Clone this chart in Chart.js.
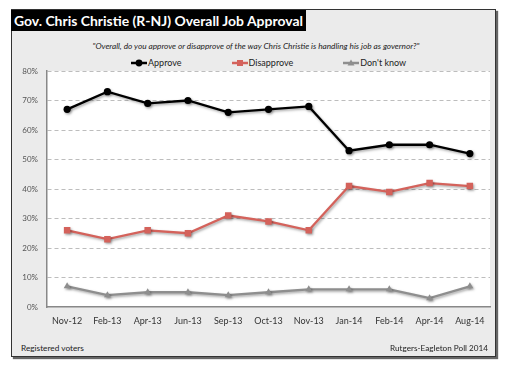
<!DOCTYPE html>
<html><head><meta charset="utf-8">
<script src="https://cdn.jsdelivr.net/npm/chart.js@4"></script>
<style>
html,body{margin:0;padding:0;background:#fff;width:512px;height:368px;overflow:hidden;font-family:Lato,"Open Sans",sans-serif;}
#frame{position:absolute;left:11px;top:9px;width:483px;height:346px;background:#ebebeb;border:1px solid #333;box-shadow:2px 2px 1px #666;}
#title{position:absolute;left:11px;top:10px;height:21px;width:295px;background:#000;}
#titleText{position:absolute;left:14px;top:10px;height:21px;line-height:21px;color:#fff;font-weight:bold;font-size:15px;white-space:nowrap;}
#sub{position:absolute;top:40px;left:256px;transform:translateX(-50%);font-style:italic;font-size:8.5px;color:#222;white-space:nowrap;line-height:12px;}
#legend{position:absolute;top:57px;left:131px;display:flex;gap:50px;font-size:9px;color:#222;line-height:12px;}
#legend .item{display:flex;align-items:center;white-space:nowrap;}
#legend canvas{position:static;margin-right:1px;}
.foot{position:absolute;top:342px;font-size:9px;color:#222;white-space:nowrap;line-height:12px;}
#wrap{position:absolute;left:0;top:0;width:512px;height:368px;}
#wrap canvas{position:absolute;left:0;top:0;}
</style>
</head><body>
<div id="frame"></div>
<div id="title"></div>
<div id="titleText">Gov. Chris Christie (R-NJ) Overall Job Approval</div>
<div id="sub">"Overall, do you approve or disapprove of the way Chris Christie is handling his job as governor?"</div>
<div id="legend"></div>
<div class="foot" id="footL" style="left:21px;">Registered voters</div>
<div class="foot" id="footR" style="right:24px;">Rutgers-Eagleton Poll 2014</div>
<div id="wrap"><canvas id="c" width="512" height="368"></canvas></div>
<script>
const categories = ['Nov-12','Feb-13','Apr-13','Jun-13','Sep-13','Oct-13','Nov-13','Jan-14','Feb-14','Apr-14','Aug-14'];
const approve    = [67, 73, 69, 70, 66, 67, 68, 53, 55, 55, 52];
const disapprove = [26, 23, 26, 25, 31, 29, 26, 41, 39, 42, 41];
const dontKnow   = [7, 4, 5, 5, 4, 5, 6, 6, 6, 3, 7];
const seriesNames = ['Approve', 'Disapprove', "Don't know"];
const yMin = 0, yMax = 80, yStep = 10;

function fitWidth(el, target){
  const w = el.getBoundingClientRect().width;
  const fs = parseFloat(getComputedStyle(el).fontSize);
  el.style.fontSize = (fs * target / w).toFixed(2) + 'px';
}
fitWidth(document.getElementById('titleText'), 289);
fitWidth(document.getElementById('sub'), 327);
fitWidth(document.getElementById('footL'), 63);
fitWidth(document.getElementById('footR'), 98);

const plotBg = {
  id:'plotBg',
  beforeDraw(chart){
    const {ctx, chartArea:a} = chart;
    ctx.save(); ctx.fillStyle = '#fff';
    ctx.fillRect(a.left, a.top, a.right - a.left, a.bottom - a.top);
    ctx.restore();
  }
};
const shadow = {
  id:'shadow',
  beforeDatasetsDraw(chart){
    const ctx = chart.ctx; ctx.save();
    ctx.shadowColor = 'rgba(0,0,0,0.35)'; ctx.shadowBlur = 2.5;
    ctx.shadowOffsetX = 1.2; ctx.shadowOffsetY = 1.5;
  },
  afterDatasetsDraw(chart){ chart.ctx.restore(); }
};

const chart = new Chart(document.getElementById('c'), {
  type:'line',
  data:{
    labels: categories,
    datasets:[
      {label:seriesNames[0], data:approve, borderColor:'#000', backgroundColor:'#000', borderWidth:2.3, pointStyle:'circle', pointRadius:3.6, pointBorderWidth:0, tension:0},
      {label:seriesNames[1], data:disapprove, borderColor:'#d4625b', backgroundColor:'#d4625b', borderWidth:2.3, pointStyle:'rect', pointRadius:4.6, pointBorderWidth:0, tension:0},
      {label:seriesNames[2], data:dontKnow, borderColor:'#8e8e8e', backgroundColor:'#8e8e8e', borderWidth:2.3, pointStyle:'triangle', pointRadius:4, pointBorderWidth:0, tension:0}
    ]
  },
  options:{
    responsive:false, animation:false,
    layout:{padding:{left:11, right:22, top:71, bottom:31}},
    plugins:{legend:{display:false}, tooltip:{enabled:false}},
    scales:{
      x:{
        offset:true,
        grid:{display:false, drawTicks:false},
        border:{display:true, color:'#888', width:1.5},
        ticks:{padding:9, color:'#333', font:{family:'Lato', size:9}, maxRotation:0, autoSkip:false},
        afterFit(s){ s.height = 30; }
      },
      y:{
        min:yMin, max:yMax,
        grid:{drawTicks:false, color:(c)=> c.tick && c.tick.value === 0 ? 'rgba(0,0,0,0)' : '#bdbdbd', lineWidth:1},
        border:{display:true, color:'#888', width:1.5, dash:[4,3]},
        ticks:{stepSize:yStep, padding:9, color:'#555', font:{family:'Lato', size:8}, callback:(v)=> v + '%'},
        afterFit(s){ s.width = 36; }
      }
    }
  },
  plugins:[plotBg, shadow]
});

// HTML legend built from dataset definitions
const legend = document.getElementById('legend');
chart.data.datasets.forEach(ds => {
  const item = document.createElement('div'); item.className = 'item';
  const cv = document.createElement('canvas'); cv.width = 16; cv.height = 10;
  const g = cv.getContext('2d');
  g.strokeStyle = ds.borderColor; g.fillStyle = ds.backgroundColor; g.lineWidth = 2.5;
  g.beginPath(); g.moveTo(0,5); g.lineTo(16,5); g.stroke();
  g.beginPath();
  if (ds.pointStyle === 'circle') { g.arc(8,5,3.4,0,Math.PI*2); }
  else if (ds.pointStyle === 'rect') { g.rect(5,2,6,6); }
  else { g.moveTo(8,1.5); g.lineTo(11.5,7.5); g.lineTo(4.5,7.5); g.closePath(); }
  g.fill();
  const t = document.createElement('span'); t.textContent = ds.label;
  item.appendChild(cv); item.appendChild(t); legend.appendChild(item);
});
</script>
</body></html>
